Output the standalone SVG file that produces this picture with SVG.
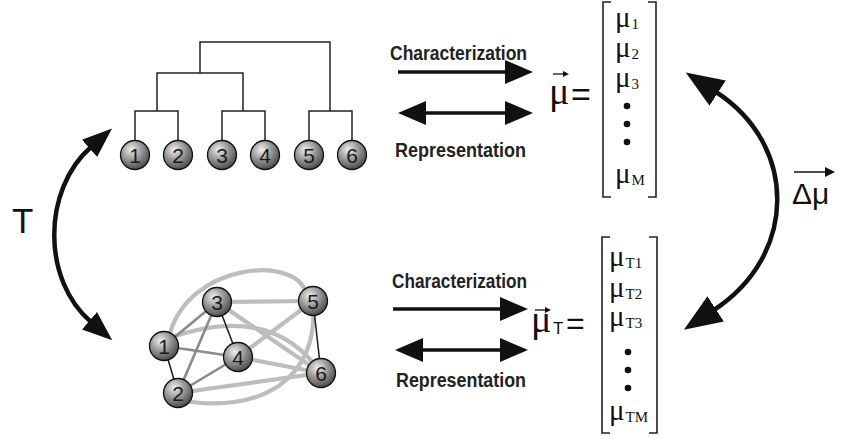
<svg xmlns="http://www.w3.org/2000/svg" width="844" height="439" viewBox="0 0 844 439">
<defs>
  <radialGradient id="ball" cx="0.38" cy="0.32" r="0.7">
    <stop offset="0" stop-color="#f0f0f0"/>
    <stop offset="0.45" stop-color="#a0a0a0"/>
    <stop offset="1" stop-color="#4a4a4a"/>
  </radialGradient>
  <marker id="ah" markerUnits="userSpaceOnUse" markerWidth="30" markerHeight="26" refX="2" refY="12" orient="auto-start-reverse" viewBox="0 0 30 24">
    <path d="M0,0 L28,12 L0,24 z" fill="#111"/>
  </marker>
  <marker id="ahL" markerUnits="userSpaceOnUse" markerWidth="32" markerHeight="26" refX="2" refY="11.5" orient="auto-start-reverse" viewBox="0 0 32 23">
    <path d="M0,0 L30,11.5 L0,23 z" fill="#111"/>
  </marker>
  <marker id="ahR" markerUnits="userSpaceOnUse" markerWidth="40" markerHeight="32" refX="2" refY="15" orient="auto-start-reverse" viewBox="0 0 40 30">
    <path d="M0,0 L38,15 L0,30 z" fill="#111"/>
  </marker>
</defs>
<style>
  .node circle { fill: url(#ball); stroke: #111; stroke-width: 1.3; }
  .node text { font-family: "Liberation Sans", Arial, sans-serif; font-size: 21px; fill: #1a1a1a; text-anchor: middle; }
  .tree { fill: none; stroke: #222; stroke-width: 1.5; }
  .e-light { fill: none; stroke: #bdbdbd; stroke-width: 4.2; }
  .e-mid { fill: none; stroke: #8a8a8a; stroke-width: 2.6; }
  .e-dark { fill: none; stroke: #1a1a1a; stroke-width: 1.5; }
  .arr { fill: none; stroke: #111; stroke-width: 3.5; }
  .arc { fill: none; stroke: #111; stroke-width: 4.5; }
  .lbl { font-family: "Liberation Sans", Arial, sans-serif; font-weight: bold; font-size: 21px; fill: #222; }
  .mu { font-family: "Liberation Serif", "Times New Roman", serif; font-size: 29px; fill: #111; }
  .mubig { font-family: "Liberation Serif", "Times New Roman", serif; font-size: 38px; fill: #111; }
  .sub { font-family: "Liberation Serif", "Times New Roman", serif; font-size: 15px; fill: #111; }
  .bracket { fill: none; stroke: #222; stroke-width: 1.6; }
  .sans { font-family: "Liberation Sans", Arial, sans-serif; fill: #111; }
</style>

<!-- dendrogram -->
<g id="dendrogram" class="tree">
  <path d="M135,140 V111 H178 V140"/>
  <path d="M222,140 V111 H265 V140"/>
  <path d="M309,140 V111 H352 V140"/>
  <path d="M157,111 V73 H243 V111"/>
  <path d="M200,73 V42 H330 V111"/>
</g>
<g id="t1" class="node"><circle cx="135" cy="155" r="14.5"/><text x="135" y="163">1</text></g>
<g id="t2" class="node"><circle cx="178" cy="155" r="14.5"/><text x="178" y="163">2</text></g>
<g id="t3" class="node"><circle cx="222" cy="155" r="14.5"/><text x="222" y="163">3</text></g>
<g id="t4" class="node"><circle cx="265" cy="155" r="14.5"/><text x="265" y="163">4</text></g>
<g id="t5" class="node"><circle cx="309" cy="155" r="14.5"/><text x="309" y="163">5</text></g>
<g id="t6" class="node"><circle cx="352" cy="155" r="14.5"/><text x="352" y="163">6</text></g>

<!-- network edges -->
<g id="network-edges">
  <path class="e-light" d="M170,333 C190,265 290,255 305,290"/>
  <path class="e-light" d="M164,340 Q270,300 321,373"/>
  <path class="e-light" d="M178,400 C260,415 320,380 313,301"/>
  <path class="e-light" d="M178,393 L321,373"/>
  <path class="e-light" d="M217,302 L313,301"/>
  <path class="e-light" d="M217,302 L321,373"/>
  <path class="e-light" d="M238,357 L313,301"/>
  <path class="e-light" d="M238,357 L321,373"/>
  <path class="e-mid" d="M164,346 L217,302"/>
  <path class="e-mid" d="M164,346 L238,357"/>
  <path class="e-mid" d="M178,393 L217,302"/>
  <path class="e-mid" d="M178,393 L238,357"/>
  <path class="e-dark" d="M164,346 L178,393"/>
  <path class="e-dark" d="M217,302 L238,357"/>
  <path class="e-dark" d="M313,301 L321,373"/>
</g>
<g id="n1" class="node"><circle cx="164" cy="346" r="14.5"/><text x="164" y="354">1</text></g>
<g id="n2" class="node"><circle cx="178" cy="393" r="14.5"/><text x="178" y="401">2</text></g>
<g id="n3" class="node"><circle cx="217" cy="302" r="14.5"/><text x="217" y="310">3</text></g>
<g id="n4" class="node"><circle cx="238" cy="357" r="14.5"/><text x="238" y="365">4</text></g>
<g id="n5" class="node"><circle cx="313" cy="301" r="14.5"/><text x="313" y="309">5</text></g>
<g id="n6" class="node"><circle cx="321" cy="373" r="14.5"/><text x="321" y="381">6</text></g>

<!-- connectors -->
<g id="connectors">
  <path class="arr" d="M398,72 H507" marker-end="url(#ah)"/>
  <path class="arr" d="M424,113 H507" marker-start="url(#ah)" marker-end="url(#ah)"/>
  <path class="arr" d="M393,309 H502" marker-end="url(#ah)"/>
  <path class="arr" d="M421,350 H502" marker-start="url(#ah)" marker-end="url(#ah)"/>
  <path class="arc" d="M91,147 C42,190 42,280 91,322" marker-start="url(#ahL)" marker-end="url(#ahL)"/>
  <path class="arc" d="M716,92 C798,145 798,255 714,310" marker-start="url(#ahR)" marker-end="url(#ahR)"/>
</g>

<!-- arrow labels -->
<g id="labels">
  <text class="lbl" x="390" y="60" textLength="137" lengthAdjust="spacingAndGlyphs">Characterization</text>
  <text class="lbl" x="395" y="157" textLength="131" lengthAdjust="spacingAndGlyphs">Representation</text>
  <text class="lbl" x="392" y="288" textLength="135" lengthAdjust="spacingAndGlyphs">Characterization</text>
  <text class="lbl" x="396" y="387" textLength="130" lengthAdjust="spacingAndGlyphs">Representation</text>
  <text class="sans" x="12" y="233" font-size="35">T</text>
</g>

<!-- mu vector -->
<g id="mu-vector">
  <text class="mubig" x="549" y="104">μ</text>
  <path d="M553,74 H566" stroke="#111" stroke-width="1.3"/>
  <path d="M563,71 L569,74 L563,77 z" fill="#111"/>
  <text class="sans" x="571" y="106" font-size="34">=</text>
  <path class="bracket" d="M611,2 H603 V197 H611"/>
  <path class="bracket" d="M648,2 H656 V197 H648"/>
  <text class="mu" x="615" y="27">μ<tspan class="sub" dx="1" dy="2">1</tspan></text>
  <text class="mu" x="615" y="57">μ<tspan class="sub" dx="1" dy="2">2</tspan></text>
  <text class="mu" x="615" y="87">μ<tspan class="sub" dx="1" dy="2">3</tspan></text>
  <circle cx="627" cy="106" r="3.3" fill="#111"/>
  <circle cx="627" cy="124" r="3.3" fill="#111"/>
  <circle cx="627" cy="142" r="3.3" fill="#111"/>
  <text class="mu" x="615" y="183">μ<tspan class="sub" dx="1" dy="2">M</tspan></text>
</g>

<!-- mu_T vector -->
<g id="muT-vector">
  <text class="mubig" x="531" y="332">μ</text>
  <path d="M535,310 H548" stroke="#111" stroke-width="1.3"/>
  <path d="M545,307 L551,310 L545,313 z" fill="#111"/>
  <text class="sans" x="553" y="334" font-size="17">T</text>
  <text class="sans" x="566" y="334" font-size="32">=</text>
  <path class="bracket" d="M610,237 H602 V433 H610"/>
  <path class="bracket" d="M649,237 H657 V433 H649"/>
  <text class="mu" x="609" y="266">μ<tspan class="sub" dx="1" dy="2">T1</tspan></text>
  <text class="mu" x="609" y="297">μ<tspan class="sub" dx="1" dy="2">T2</tspan></text>
  <text class="mu" x="609" y="326">μ<tspan class="sub" dx="1" dy="2">T3</tspan></text>
  <circle cx="628" cy="352" r="3.3" fill="#111"/>
  <circle cx="628" cy="370" r="3.3" fill="#111"/>
  <circle cx="628" cy="388" r="3.3" fill="#111"/>
  <text class="mu" x="609" y="420">μ<tspan class="sub" dx="1" dy="2">TM</tspan></text>
</g>

<!-- delta mu -->
<g id="delta-mu">
  <text class="sans" x="792" y="204" font-size="30">Δμ</text>
  <path d="M794,172 H828" stroke="#111" stroke-width="1.6"/>
  <path d="M825,167 L835,172 L825,177 z" fill="#111"/>
</g>
</svg>
